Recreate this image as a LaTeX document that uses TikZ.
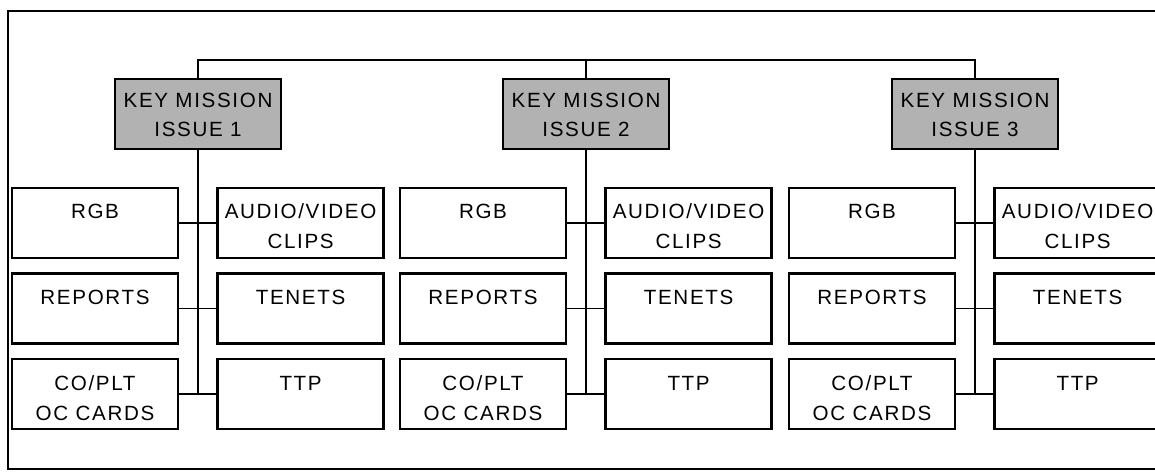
\documentclass[tikz,border=0pt]{standalone}
\usepackage{fontspec}
\setmainfont{Liberation Sans}[LetterSpace=8]
\usetikzlibrary{positioning}
\tikzset{
    issue/.style={draw, line width=1.3pt, fill=black!30, align=center, minimum width=83pt, inner sep=0pt, text height=29pt, text depth=6pt, font=\fontsize{10.3}{14.5}\selectfont},
    item/.style={draw, line width=1.3pt, fill=white, align=center, minimum width=83pt, inner sep=0pt, text height=15.5pt, text depth=19.5pt, font=\fontsize{10.3}{15}\selectfont},
    twoline/.style={text height=30.5pt, text depth=4.5pt},
    link/.style={line width=0.9pt}
}
\begin{document}
\begin{tikzpicture}[x=0.5pt, y=-0.5pt]
        \path[use as bounding box, clip] (0,0) rectangle (1155,474);
        \draw[line width=1.3pt] (1200,11) -- (8,11) -- (8,469) -- (1200,469);
        % key mission issues
        \node [issue] (i1) at (198,114) {KEY MISSION\\ISSUE 1};
        \node [issue] (i2) at (586,114) {KEY MISSION\\ISSUE 2};
        \node [issue] (i3) at (975,114) {KEY MISSION\\ISSUE 3};
        \coordinate (bus) at (586,60);
        \draw [link] (i1.north) |- (bus) -| (i3.north);
        \draw [link] (i2.north) -- (bus);
        % issue 1
        \node [item] (rgb1) at (95,223) {RGB};
        \node [item, below=6.5pt of rgb1] (rep1) {REPORTS};
        \node [item, twoline, below=6.5pt of rep1] (cop1) {CO/PLT\\OC CARDS};
        \node [item, twoline, right=18.5pt of rgb1] (av1) {AUDIO/VIDEO\\CLIPS};
        \node [item, right=18.5pt of rep1] (ten1) {TENETS};
        \node [item, right=18.5pt of cop1] (ttp1) {TTP};
        \draw [link] (i1.south) -- (i1.south |- cop1.east);
        \draw [link] (rgb1) -- (av1);
        \draw [link] (rep1) -- (ten1);
        \draw [link] (cop1) -- (ttp1);
        % issue 2
        \node [item] (rgb2) at (483,223) {RGB};
        \node [item, below=6.5pt of rgb2] (rep2) {REPORTS};
        \node [item, twoline, below=6.5pt of rep2] (cop2) {CO/PLT\\OC CARDS};
        \node [item, twoline, right=18.5pt of rgb2] (av2) {AUDIO/VIDEO\\CLIPS};
        \node [item, right=18.5pt of rep2] (ten2) {TENETS};
        \node [item, right=18.5pt of cop2] (ttp2) {TTP};
        \draw [link] (i2.south) -- (i2.south |- cop2.east);
        \draw [link] (rgb2) -- (av2);
        \draw [link] (rep2) -- (ten2);
        \draw [link] (cop2) -- (ttp2);
        % issue 3
        \node [item] (rgb3) at (872,223) {RGB};
        \node [item, below=6.5pt of rgb3] (rep3) {REPORTS};
        \node [item, twoline, below=6.5pt of rep3] (cop3) {CO/PLT\\OC CARDS};
        \node [item, twoline, right=18.5pt of rgb3] (av3) {AUDIO/VIDEO\\CLIPS};
        \node [item, right=18.5pt of rep3] (ten3) {TENETS};
        \node [item, right=18.5pt of cop3] (ttp3) {TTP};
        \draw [link] (i3.south) -- (i3.south |- cop3.east);
        \draw [link] (rgb3) -- (av3);
        \draw [link] (rep3) -- (ten3);
        \draw [link] (cop3) -- (ttp3);
    \end{tikzpicture}
\end{document}
